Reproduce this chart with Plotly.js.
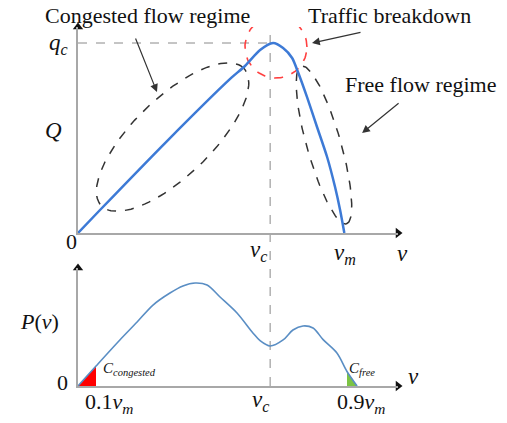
<!DOCTYPE html>
<html><head><meta charset="utf-8">
<script src="https://cdn.plot.ly/plotly-3.0.1.min.js"></script>
<style>html,body{margin:0;padding:0;background:#fff}</style>
</head><body><div id="chart" style="width:507px;height:423px"></div>
<script>
// ---- data (schematic; v in units of v_m) ----
const vTop = [0, 0.083, 0.336, 0.574, 0.630, 0.687, 0.736, 0.774, 0.808, 0.830, 0.864, 0.902, 0.940, 0.970, 0.989, 1.005];
const qTop = [0, 0.121, 0.484, 0.811, 0.879, 0.963, 1.0, 0.974, 0.921, 0.847, 0.716, 0.558, 0.400, 0.242, 0.121, 0];
const vBot = [0, 0.068, 0.158, 0.223, 0.283, 0.347, 0.396, 0.442, 0.487, 0.536, 0.600, 0.660, 0.687, 0.725, 0.774, 0.811, 0.849, 0.887, 0.925, 0.977, 1.015, 1.053];
const pBot = [0, 0.194, 0.447, 0.621, 0.786, 0.903, 0.971, 1.0, 0.981, 0.864, 0.709, 0.515, 0.440, 0.388, 0.447, 0.544, 0.583, 0.563, 0.450, 0.320, 0.141, 0];
const vC = 0.725, qC = 1.0;
const congX = [0, 0.068], congP = [0, 0.194];
const freeX = [1.015, 1.053], freeP = [0.141, 0];

// ---- layout geometry ----
const W = 507, H = 423;
const xRange = [0, 1.2075];
const yTopRange = [0, 1.0842];
const yBotRange = [0, 1.1456];
const xDom = [78 / W, 398 / W];
const yTopDom = [(H - 233) / H, (H - 27) / H];
const yBotDom = [(H - 386) / H, (H - 268) / H];
const pxX = (xDom[1] - xDom[0]) * W / (xRange[1] - xRange[0]);
const pxQ = (yTopDom[1] - yTopDom[0]) * H / (yTopRange[1] - yTopRange[0]);

function ellipse(cx, cy, a, b, angDeg) {
  const t = angDeg * Math.PI / 180, xs = [], ys = [];
  for (let i = 0; i <= 120; i++) {
    const s = 2 * Math.PI * i / 120;
    const dx = a * Math.cos(s) * Math.cos(t) - b * Math.sin(s) * Math.sin(t);
    const dy = a * Math.cos(s) * Math.sin(t) + b * Math.sin(s) * Math.cos(t);
    xs.push(cx + dx / pxX); ys.push(cy + dy / pxQ);
  }
  return {xs, ys};
}
const e1 = ellipse(0.357, 0.505, 99, 39, 44);
const e2 = ellipse(0.928, 0.463, 82, 17, -74.1);
const c1 = ellipse(0.747, 0.979, 31, 31, 0);

const traces = [
  {x: [0, vC], y: [qC, qC], xaxis: 'x', yaxis: 'y', mode: 'lines', line: {color: '#8a8a8a', width: 1, dash: 'dash'}},
  {x: e1.xs, y: e1.ys, mode: 'lines', line: {color: '#333', width: 1.5, dash: 'dash'}},
  {x: e2.xs, y: e2.ys, mode: 'lines', line: {color: '#333', width: 1.5, dash: 'dash'}},
  {x: c1.xs, y: c1.ys, mode: 'lines', line: {color: '#ff4040', width: 1.6, dash: 'dash'}},
  {x: vTop, y: qTop, mode: 'lines', line: {color: '#3d7ad6', width: 2.5, shape: 'spline', smoothing: 0.7}},
  {x: [xRange[1]], y: [0], mode: 'markers', marker: {symbol: 'triangle-right', size: 9, color: '#111'}, cliponaxis: false},
  {x: [0], y: [yTopRange[1]], mode: 'markers', marker: {symbol: 'triangle-up', size: 9, color: '#111'}, cliponaxis: false},
  // bottom panel
  {x: congX, y: congP, xaxis: 'x2', yaxis: 'y2', mode: 'lines', fill: 'tozeroy', fillcolor: '#ff0000', line: {width: 0, color: '#ff0000'}},
  {x: freeX, y: freeP, xaxis: 'x2', yaxis: 'y2', mode: 'lines', fill: 'tozeroy', fillcolor: '#7cc444', line: {width: 0, color: '#7cc444'}},
  {x: vBot, y: pBot, xaxis: 'x2', yaxis: 'y2', mode: 'lines', line: {color: '#5a8ec4', width: 1.6, shape: 'spline', smoothing: 0.9}},
  {x: [xRange[1]], y: [0], xaxis: 'x2', yaxis: 'y2', mode: 'markers', marker: {symbol: 'triangle-right', size: 9, color: '#111'}, cliponaxis: false},
  {x: [0], y: [yBotRange[1]], xaxis: 'x2', yaxis: 'y2', mode: 'markers', marker: {symbol: 'triangle-up', size: 9, color: '#111'}, cliponaxis: false}
];

const ax = (dom, rng, extra) => Object.assign({domain: dom, range: rng, showline: true, linecolor: '#a8a8a8', linewidth: 2,
  showgrid: false, zeroline: false, showticklabels: false, ticks: '', fixedrange: true}, extra);

const serif = '"Liberation Serif", "Times New Roman", serif';
const P = (px, py) => ({xref: 'paper', yref: 'paper', x: px / W, y: 1 - py / H});
function lbl(px, py, text, size) {
  return Object.assign(P(px, py), {text, showarrow: false, xanchor: 'center', yanchor: 'middle',
    font: {family: serif, size: size || 22, color: '#111'}});
}
function arrow(hx, hy, axp, ayp) {
  return {xref: 'x', yref: 'y', x: hx, y: hy, ax: axp, ay: ayp, text: '', showarrow: true,
    arrowhead: 2, arrowsize: 1.3, arrowwidth: 1.2, arrowcolor: '#333'};
}

const annotations = [
  lbl(147, 15, 'Congested flow regime', 22),
  lbl(389, 15, 'Traffic breakdown', 22),
  lbl(421, 84, 'Free flow regime', 22),
  arrow(0.298, 0.742, -22, -55),
  arrow(0.883, 1.0, 50, -11),
  arrow(1.072, 0.526, 38, -31),
  lbl(58, 44, '<i>q<sub>c</sub></i>', 23),
  lbl(53, 130, '<i>Q</i>', 23),
  lbl(71, 241, '0', 22),
  lbl(258, 251, '<i>v<sub>c</sub></i>', 23),
  lbl(345, 254, '<i>v<sub>m</sub></i>', 23),
  lbl(402, 253, '<i>v</i>', 23),
  lbl(39, 321, '<i>P</i>(<i>v</i>)', 22),
  lbl(62, 382, '0', 22),
  lbl(129, 369, '<i>C<sub>congested</sub></i>', 15),
  lbl(362, 369, '<i>C<sub>free</sub></i>', 15),
  lbl(413, 376, '<i>v</i>', 23),
  lbl(109, 403, '0.1<i>v<sub>m</sub></i>', 22),
  lbl(260, 401, '<i>v<sub>c</sub></i>', 23),
  lbl(361, 403, '0.9<i>v<sub>m</sub></i>', 22)
];

const layout = {
  width: W, height: H, margin: {l: 0, r: 0, t: 0, b: 0}, showlegend: false,
  paper_bgcolor: '#fff', plot_bgcolor: 'rgba(0,0,0,0)',
  font: {family: serif},
  xaxis: ax(xDom, xRange, {anchor: 'y'}),
  yaxis: ax(yTopDom, yTopRange, {anchor: 'x'}),
  xaxis2: ax(xDom, xRange, {anchor: 'y2'}),
  yaxis2: ax(yBotDom, yBotRange, {anchor: 'x2'}),
  shapes: [{type: 'line', xref: 'x', yref: 'paper', x0: vC, x1: vC, y0: yBotDom[0], y1: (H - 32) / H,
    line: {color: '#8a8a8a', width: 1, dash: 'dash'}, layer: 'below'}],
  annotations
};
Plotly.newPlot('chart', traces, layout, {displayModeBar: false, staticPlot: true});
</script></body></html>
